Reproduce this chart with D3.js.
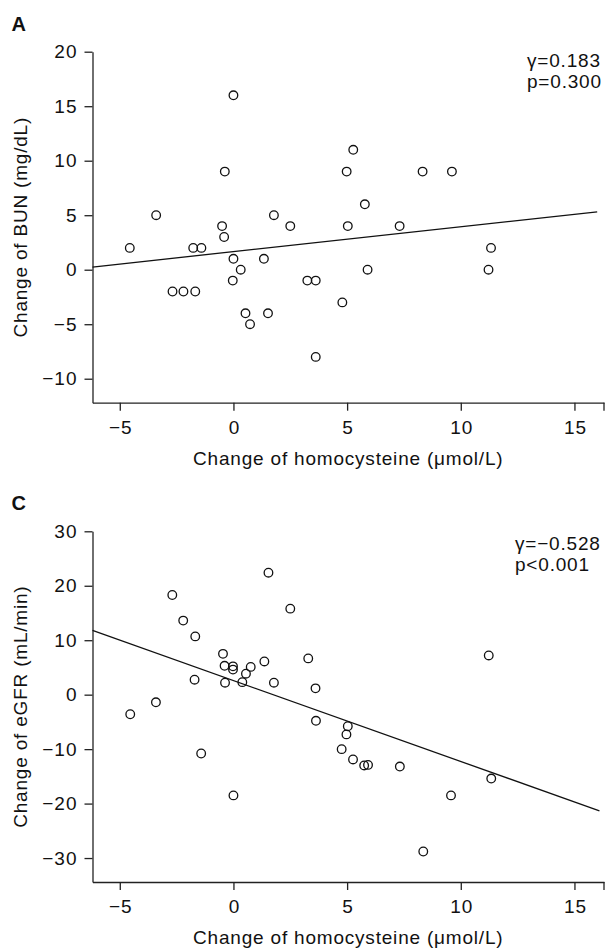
<!DOCTYPE html>
<html>
<head>
    <meta charset="utf-8">
    <script type="text/javascript" src="https://cdn.jsdelivr.net/npm/d3@7"></script>
    <style>
body {
	margin: 0;
	background: #fff;
}

svg {
	font-family: "Liberation Sans", Arial, sans-serif;
}

.axis path, .axis line {
	stroke: #222;
	stroke-width: 1.3px;
}

.axis text {
	font-size: 19px;
	letter-spacing: 1px;
	fill: #111;
}

.dot {
	fill: none;
	stroke: #111;
	stroke-width: 1.3px;
}

.fit {
	stroke: #111;
	stroke-width: 1.3px;
}

.axisLabel, .stat {
	font-size: 19px;
	letter-spacing: 0.8px;
	fill: #111;
}

.panelLabel {
	font-size: 20px;
	font-weight: bold;
	fill: #111;
}
    </style>
</head>
<body>
	<svg class="chart" width="605" height="949"></svg>

    <script type="text/javascript">

	// panel A: change of homocysteine vs change of BUN
	var bunX = [0, -0.38, -3.4, 1.78, 5.27, 4.98, 8.32, 9.61, 5.78, -4.56, 2.5, -0.5,
		-0.41, -1.77, -1.41, 0, 1.34, 0.32, -0.03, -2.68, -2.2, -1.68, 0.53, 1.52,
		0.73, 3.25, 3.62, 3.62, 5.03, 7.31, 11.33, 11.22, 5.9, 4.79];
	var bunY = [16, 9, 5, 5, 11, 9, 9, 9, 6, 2, 4, 4,
		3, 2, 2, 1, 1, 0, -1, -2, -2, -2, -4, -4,
		-5, -1, -1, -8, 4, 4, 2, 0, 0, -3];
	var bunFit = {intercept: 1.66, slope: 0.228, from: -6.2, to: 16.0};
	var bunStats = ["\u03b3=0.183", "p=0.300"];
	var bunTicks = [-10, -5, 0, 5, 10, 15, 20];

	// panel C: change of homocysteine vs change of eGFR
	var gfrX = [1.54, -2.69, -2.21, -1.68, 2.5, -0.46, -0.39, -0.02, -0.02, 0.76, 0.55, 1.36,
		-1.71, -0.37, 0.39, 1.78, 3.29, 3.61, -3.41, -4.54, -1.42, 0, 3.63, 11.23,
		5.03, 4.97, 4.76, 5.26, 5.75, 5.92, 7.32, 11.34, 9.57, 8.35];
	var gfrY = [22.4, 18.3, 13.6, 10.7, 15.8, 7.5, 5.3, 5.2, 4.6, 5.1, 3.85, 6.1,
		2.75, 2.2, 2.3, 2.2, 6.66, 1.16, -1.4, -3.6, -10.8, -18.5, -4.8, 7.2,
		-5.8, -7.3, -10.0, -11.9, -13.0, -12.9, -13.2, -15.4, -18.5, -28.8];
	var gfrFit = {intercept: 2.59, slope: -1.486, from: -6.2, to: 16.1};
	var gfrStats = ["\u03b3=\u22120.528", "p<0.001"];
	var gfrTicks = [-30, -20, -10, 0, 10, 20, 30];

	var xTicks = [-5, 0, 5, 10, 15];
	var xTitle = "Change of homocysteine (\u03bcmol/L)";

	var svg = d3.select(".chart");

	var panels = [
		{label: "A", xs: bunX, ys: bunY, fit: bunFit, stats: bunStats, yTicks: bunTicks,
		 yDomain: [-12.2, 20], yTitle: "Change of BUN (mg/dL)",
		 top: 51.7, bottom: 402.7, statX: 527, statY: 67, labelY: 31},
		{label: "C", xs: gfrX, ys: gfrY, fit: gfrFit, stats: gfrStats, yTicks: gfrTicks,
		 yDomain: [-34.4, 30], yTitle: "Change of eGFR (mL/min)",
		 top: 531.3, bottom: 882, statX: 515, statY: 550, labelY: 510}
	];

	var left = 92.5, right = 604;

	panels.forEach(function(p) {
		var xScale = d3.scaleLinear()
			.domain([-6.2, 16.3])
			.range([left, right]);

		var yScale = d3.scaleLinear()
			.domain(p.yDomain)
			.range([p.bottom, p.top]);

		var g = svg.append("g");

		var xAxis = g.append("g")
			.attr("class", "axis xAxis")
			.attr("transform", "translate(0," + p.bottom + ")")
			.call(d3.axisBottom(xScale).tickValues(xTicks).tickSize(8).tickSizeOuter(0).tickPadding(10));
		// small end tick at the right edge of the x axis
		xAxis.append("line")
			.attr("x1", xScale.range()[1]).attr("x2", xScale.range()[1])
			.attr("y1", 0).attr("y2", 8);

		g.append("g")
			.attr("class", "axis yAxis")
			.attr("transform", "translate(" + left + ",0)")
			.call(d3.axisLeft(yScale).tickValues(p.yTicks).tickSize(8).tickSizeOuter(0).tickPadding(8));

		g.selectAll(".axis text").attr("dx", function() {
			return this.parentNode.parentNode.classList.contains("yAxis") ? "1px" : "0.5px";
		});

		g.append("line")
			.attr("class", "fit")
			.attr("x1", xScale(p.fit.from))
			.attr("y1", yScale(p.fit.intercept + p.fit.slope * p.fit.from))
			.attr("x2", xScale(p.fit.to))
			.attr("y2", yScale(p.fit.intercept + p.fit.slope * p.fit.to));

		g.selectAll(".dot")
			.data(p.xs.map(function(d, i) { return [d, p.ys[i]]; }))
			.enter().append("circle")
			.attr("class", "dot")
			.attr("r", 4.3)
			.attr("cx", function(d) { return xScale(d[0]); })
			.attr("cy", function(d) { return yScale(d[1]); });

		g.selectAll(".stat")
			.data(p.stats)
			.enter().append("text")
			.attr("class", "stat")
			.attr("x", p.statX)
			.attr("y", function(d, i) { return p.statY + i * 21; })
			.text(function(d) { return d; });

		g.append("text")
			.attr("class", "panelLabel")
			.attr("x", 11.5)
			.attr("y", p.labelY)
			.text(p.label);

		g.append("text")
			.attr("class", "axisLabel")
			.attr("text-anchor", "middle")
			.attr("x", (left + right) / 2)
			.attr("y", p.bottom + 62)
			.text(xTitle);

		g.append("text")
			.attr("class", "axisLabel")
			.attr("text-anchor", "middle")
			.attr("transform", "translate(27," + (p.top + p.bottom) / 2 + ") rotate(-90)")
			.text(p.yTitle);
	});
	</script>
</body>
</html>
